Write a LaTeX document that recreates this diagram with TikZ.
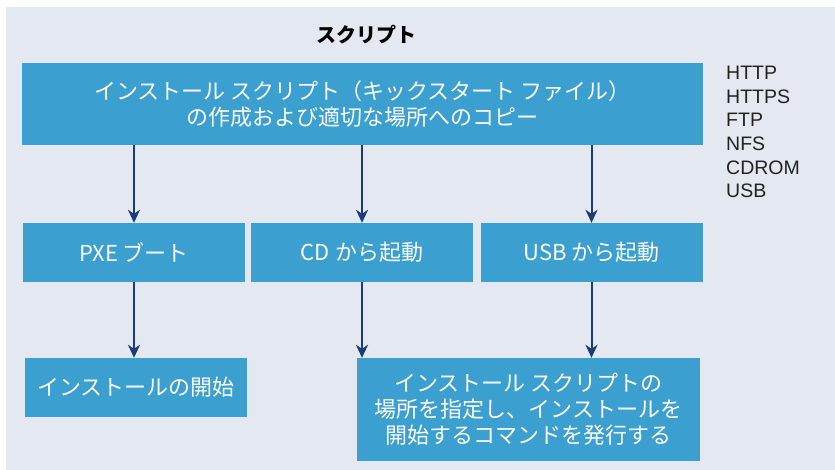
\documentclass[tikz,border=0pt]{standalone}
\usepackage{fontspec}
\setmainfont{Noto Sans CJK JP}
\newfontfamily\listfont{Liberation Sans}
\usetikzlibrary{positioning, arrows.meta}
\definecolor{panelgrey}{HTML}{E3E8F1}
\definecolor{boxblue}{HTML}{3B9FCF}
\definecolor{arrownavy}{HTML}{1F3A7A}
\definecolor{listgrey}{HTML}{222222}

\begin{document}
\begin{tikzpicture}[x=1pt, y=-1pt,
box/.style={rectangle, fill=boxblue, text=white, align=center, inner sep=0pt, minimum width=222pt, minimum height=59pt, font=\fontsize{22}{26}\selectfont},
path/.style={-{Stealth[length=13pt, width=12pt, inset=4pt]}, draw=arrownavy, line width=2pt},
]

\useasboundingbox (0,0) rectangle (835,470);
\fill[white] (0,0) rectangle (835,470);
\fill[panelgrey] (6,7) rectangle (835,470);

%Nodes
\node [font=\fontsize{20}{24}\selectfont\bfseries] (title) at (366,35) {スクリプト};
\node [box, minimum width=681pt, minimum height=82pt] (script) at (362.5,104) {インストール スクリプト（キックスタート ファイル）\\の作成および適切な場所へのコピー};
\node [box] (pxe) at (134,252.5) {PXE ブート};
\node [box] (cd) at (362,252.5) {CD から起動};
\node [box] (usb) at (591.5,252.5) {USB から起動};
\node [box] (start) at (136,387.5) {インストールの開始};
\node [box, minimum width=343pt, minimum height=103pt] (cmd) at (528.5,409.5) {インストール スクリプトの\\場所を指定し、インストールを\\開始するコマンドを発行する};
\node [anchor=north west, inner sep=0pt, align=left, text=listgrey, font=\listfont\fontsize{19.5}{23.6}\selectfont] (proto) at (726,66) {HTTP\\HTTPS\\FTP\\NFS\\CDROM\\USB};

% Paths
\draw [path] (script.south -| pxe) -- (pxe);
\draw [path] (script.south -| cd) -- (cd);
\draw [path] (script.south -| usb) -- (usb);
\draw [path] (pxe) -- (pxe |- start.north);
\draw [path] (cd) -- (cd |- cmd.north);
\draw [path] (usb) -- (usb |- cmd.north);
\end{tikzpicture}
\end{document}
